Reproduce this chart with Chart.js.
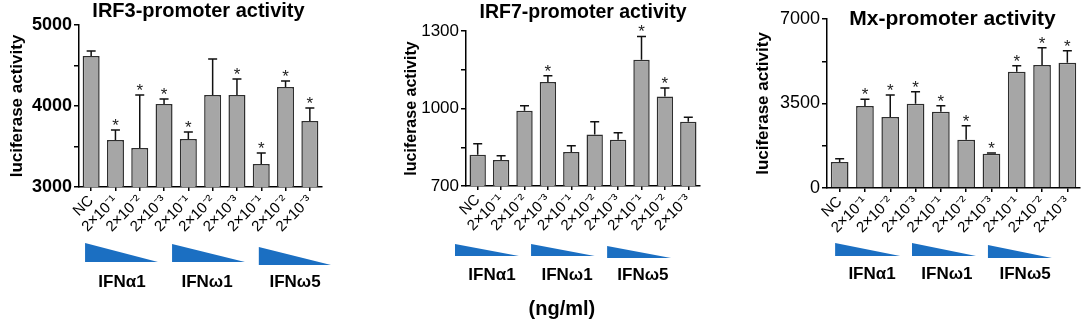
<!DOCTYPE html>
<html>
<head>
<meta charset="utf-8">
<script src="https://cdn.jsdelivr.net/npm/chart.js@4.4.1/dist/chart.umd.min.js"></script>
<style>
  html, body { margin: 0; padding: 0; background: #fff; }
  #wrap { position: relative; width: 1084px; height: 325px; overflow: hidden; }
  canvas { position: absolute; top: 0; }
</style>
</head>
<body>
<div id="wrap">
  <canvas id="irf3" width="360" height="325" style="left:0"></canvas>
  <canvas id="irf7" width="360" height="325" style="left:360px"></canvas>
  <canvas id="mx" width="364" height="325" style="left:720px"></canvas>
</div>
<script>
// x categories: control + three doses for each interferon
const categories = ['NC', '2×10⁻¹', '2×10⁻²', '2×10⁻³', '2×10⁻¹', '2×10⁻²', '2×10⁻³', '2×10⁻¹', '2×10⁻²', '2×10⁻³'];
const groups = ['IFNα1', 'IFNω1', 'IFNω5'];
const unitLabel = '(ng/ml)';

// IRF3 promoter
const irf3Mean = [4617, 3580, 3482, 4025, 3593, 4136, 4136, 3284, 4235, 3815];
const irf3Sem = [63, 124, 654, 61, 86, 444, 197, 136, 74, 160];
const irf3Sig = [0, 1, 1, 1, 1, 0, 1, 1, 1, 1];

// IRF7 promoter
const irf7Mean = [821, 801, 991, 1103, 832, 899, 879, 1189, 1046, 949];
const irf7Sem = [43, 16, 20, 24, 24, 50, 27, 90, 33, 17];
const irf7Sig = [0, 0, 0, 1, 0, 0, 0, 1, 1, 0];

// Mx promoter
const mxMean = [1077, 3397, 2941, 3493, 3162, 2002, 1422, 4819, 5095, 5192];
const mxSem = [137, 277, 912, 497, 248, 580, 30, 248, 717, 497];
const mxSig = [0, 1, 1, 1, 1, 1, 1, 1, 1, 1];

Chart.defaults.font.family = '"Liberation Sans", Arial, sans-serif';
Chart.defaults.color = '#000';

const FONT = '"Liberation Sans", Arial, sans-serif';

// error bars, stars, title, dose wedges and group names
function decorations(p) {
  return {
    id: 'decorations',
    afterDatasetsDraw(chart) {
      const {ctx, chartArea: a, scales: {x, y}} = chart;
      const bars = chart.getDatasetMeta(0).data;
      ctx.save();
      bars.forEach((bar, i) => {
        const top = y.getPixelForValue(p.mean[i] + p.sem[i]);
        ctx.strokeStyle = '#111';
        ctx.lineWidth = 1.5;
        ctx.beginPath();
        ctx.moveTo(bar.x, bar.y);
        ctx.lineTo(bar.x, top);
        ctx.moveTo(bar.x - 4.5, top);
        ctx.lineTo(bar.x + 4.5, top);
        ctx.stroke();
        if (p.sig[i]) {
          ctx.fillStyle = '#222';
          ctx.font = '17px ' + FONT;
          ctx.textAlign = 'center';
          ctx.textBaseline = 'alphabetic';
          ctx.fillText('*', bar.x, top + 1);
        }
      });

      ctx.fillStyle = '#000';
      ctx.textAlign = 'center';
      ctx.textBaseline = 'alphabetic';
      ctx.font = 'bold ' + p.titleSize + 'px ' + FONT;
      ctx.fillText(p.title, (a.left + a.right) / 2 + p.titleDx, p.titleY);

      p.wedges.forEach(w => {
        const xl = x.getPixelForValue(w[0]);
        const xr = x.getPixelForValue(w[1]);
        ctx.fillStyle = '#1b6fc2';
        ctx.beginPath();
        ctx.moveTo(xl, a.bottom + w[2]);
        ctx.lineTo(xl, a.bottom + w[3]);
        ctx.lineTo(xr, a.bottom + w[3]);
        ctx.closePath();
        ctx.fill();
      });

      ctx.fillStyle = '#000';
      ctx.font = 'bold 17px ' + FONT;
      groups.forEach((g, i) => {
        ctx.fillText(g, x.getPixelForValue(p.groupAt[i]), a.bottom + p.groupDy);
      });

      if (p.unit) {
        ctx.font = 'bold 20px ' + FONT;
        ctx.fillText(unitLabel, x.getPixelForValue(p.unit[0]), a.bottom + p.unit[1]);
      }
      ctx.restore();
    }
  };
}

function makeChart(id, p) {
  const canvas = document.getElementById(id);
  return new Chart(canvas, {
    type: 'bar',
    data: {
      labels: categories,
      datasets: [{
        data: p.mean,
        backgroundColor: '#a6a6a6',
        borderColor: '#2e2e2e',
        borderWidth: 1.5,
        barPercentage: 0.7,
        categoryPercentage: 1
      }]
    },
    options: {
      responsive: false,
      animation: false,
      layout: { padding: { left: 0, top: p.area.top, right: canvas.width - p.area.right, bottom: 0 } },
      plugins: { legend: { display: false }, tooltip: { enabled: false } },
      scales: {
        x: {
          offset: true,
          grid: { display: true, drawOnChartArea: false, offset: false, color: '#000', lineWidth: 1.5, tickLength: 4 },
          border: { color: '#000', width: 1.5 },
          ticks: { font: { size: 15 }, minRotation: 45, maxRotation: 45, autoSkip: false, padding: 1 },
          afterFit: s => { s.height = canvas.height - p.area.bottom; }
        },
        y: {
          min: p.min,
          max: p.max,
          grid: { drawOnChartArea: false, color: '#000', lineWidth: 1.5, tickLength: 5 },
          border: { color: '#000', width: 1.5 },
          ticks: {
            stepSize: p.step,
            padding: 2,
            font: p.tickFont,
            // label only every other tick, the rest stay as minor marks
            callback: v => ((v - p.min) % p.major === 0 ? v : '')
          },
          title: {
            display: true,
            text: 'luciferase activity',
            font: { size: p.yTitleSize, weight: 'bold' },
            padding: { top: p.yTitlePad, bottom: 0 }
          },
          afterFit: s => { s.width = p.area.left; }
        }
      }
    },
    plugins: [decorations(p)]
  });
}

makeChart('irf3', {
  mean: irf3Mean, sem: irf3Sem, sig: irf3Sig,
  title: 'IRF3-promoter activity', titleSize: 20, titleDx: -2, titleY: 17,
  min: 3000, max: 5000, step: 500, major: 1000,
  tickFont: { size: 18, weight: 'bold' }, yTitleSize: 17, yTitlePad: 7,
  area: { left: 79, right: 322, top: 25, bottom: 187 },
  wedges: [[-0.25, 2.75, 56, 75], [3.33, 6.33, 57, 75], [6.9, 9.87, 60, 78]],
  groupAt: [1.27, 4.77, 8.39], groupDy: 100
});

makeChart('irf7', {
  mean: irf7Mean, sem: irf7Sem, sig: irf7Sig,
  title: 'IRF7-promoter activity', titleSize: 19.5, titleDx: 0, titleY: 18,
  min: 700, max: 1300, step: 150, major: 300,
  tickFont: { size: 17 }, yTitleSize: 16, yTitlePad: 42,
  area: { left: 106, right: 340, top: 31, bottom: 186 },
  wedges: [[-0.97, 1.76, 58, 70], [2.28, 5.0, 58, 70], [5.53, 8.26, 60, 72]],
  groupAt: [0.61, 3.82, 7.06], groupDy: 94,
  unit: [3.6, 129]
});

makeChart('mx', {
  mean: mxMean, sem: mxSem, sig: mxSig,
  title: 'Mx-promoter activity', titleSize: 21, titleDx: -1, titleY: 25,
  min: 0, max: 7000, step: 1750, major: 3500,
  tickFont: { size: 18 }, yTitleSize: 17, yTitlePad: 33,
  area: { left: 107, right: 360, top: 19, bottom: 188 },
  wedges: [[-0.18, 2.39, 55, 68], [2.86, 5.39, 55, 68], [5.86, 8.39, 57, 70]],
  groupAt: [1.28, 4.24, 7.33], groupDy: 91
});
</script>
</body>
</html>
